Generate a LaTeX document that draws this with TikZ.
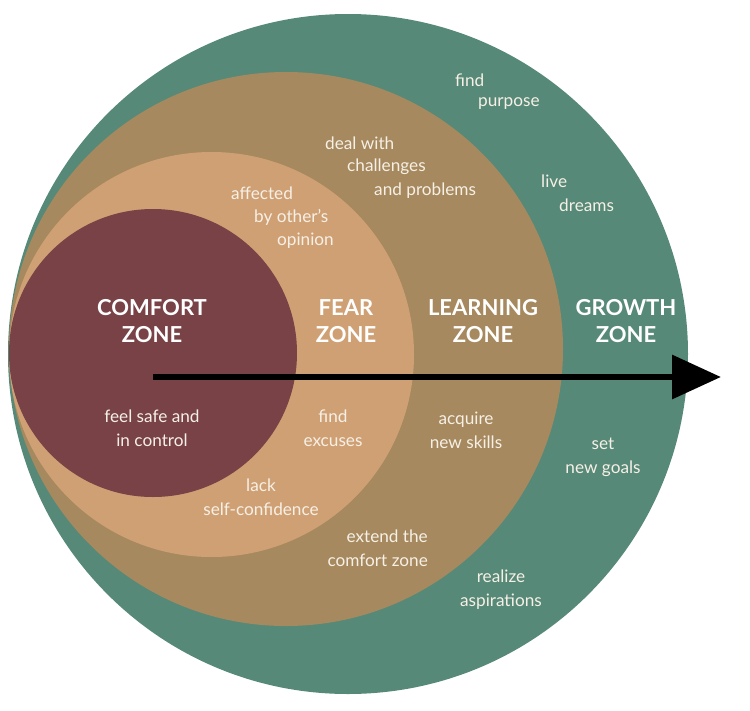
\documentclass[tikz,border=0pt]{standalone}
\usepackage{fontspec}
\setmainfont{Lato}
\usetikzlibrary{arrows.meta}
\definecolor{growth}{HTML}{568978}
\definecolor{learning}{HTML}{A6895E}
\definecolor{fear}{HTML}{D0A075}
\definecolor{comfort}{HTML}{784247}
\definecolor{ink}{HTML}{F6F0E6}
\tikzset{
  x=1pt, y=-1pt,
  zonetitle/.style={text=white, font=\fontsize{22}{27}\selectfont\bfseries, align=center, inner sep=0pt},
  note/.style={text=ink, font=\fontsize{17.2}{24}\selectfont, inner sep=0pt},
  notec/.style={note, align=center},
  progress/.style={line width=6.5pt, -{Triangle[length=49pt,width=43pt]}}
}
\begin{document}
\begin{tikzpicture}
\useasboundingbox (0,0) rectangle (750,710);
% nested zones, outermost first
\fill[growth]   (348,354)   circle (340);
\fill[learning] (286,349)   circle (277);
\fill[fear]     (211.5,354.5) circle (202.5);
\fill[comfort]  (153,353)   circle (144);

% zone titles
\node[zonetitle] (tcomfort)  at (152,321) {COMFORT\\ZONE};
\node[zonetitle] (tfear)     at (346,321) {FEAR\\ZONE};
\node[zonetitle] (tlearning) at (483,321) {LEARNING\\ZONE};
\node[zonetitle] (tgrowth)   at (626,321) {GROWTH\\ZONE};

% arrow across the zones
\coordinate (start) at (153,377);
\coordinate (tip) at (721,377);
\draw[progress] (start) -- (tip);

% growth zone notes
\node[note, anchor=west] (g1a) at (455,80)  {find};
\node[note, anchor=west] (g1b) at (478,104) {purpose};
\node[note, anchor=west] (g2a) at (541,181) {live};
\node[note, anchor=west] (g2b) at (559,205) {dreams};
\node[notec] (g3) at (603,457) {set\\new goals};
\node[notec] (g4) at (501,590) {realize\\aspirations};

% learning zone notes
\node[note, anchor=west] (l1a) at (325,143) {deal with};
\node[note, anchor=west] (l1b) at (347,167) {challenges};
\node[note, anchor=west] (l1c) at (374,191) {and problems};
\node[notec] (l2) at (466,430) {acquire\\new skills};
\node[note, anchor=east] (l3a) at (428,536) {extend the};
\node[note, anchor=east] (l3b) at (428,560) {comfort zone};

% fear zone notes
\node[note, anchor=west] (f1a) at (231,193) {affected};
\node[note, anchor=west] (f1b) at (254,217) {by other’s};
\node[note, anchor=west] (f1c) at (277,241) {opinion};
\node[notec] (f2) at (333,428) {find\\excuses};
\node[notec] (f3) at (261,497) {lack\\self-confidence};

% comfort zone note
\node[notec] (c1) at (152,428) {feel safe and\\in control};
\end{tikzpicture}
\end{document}
